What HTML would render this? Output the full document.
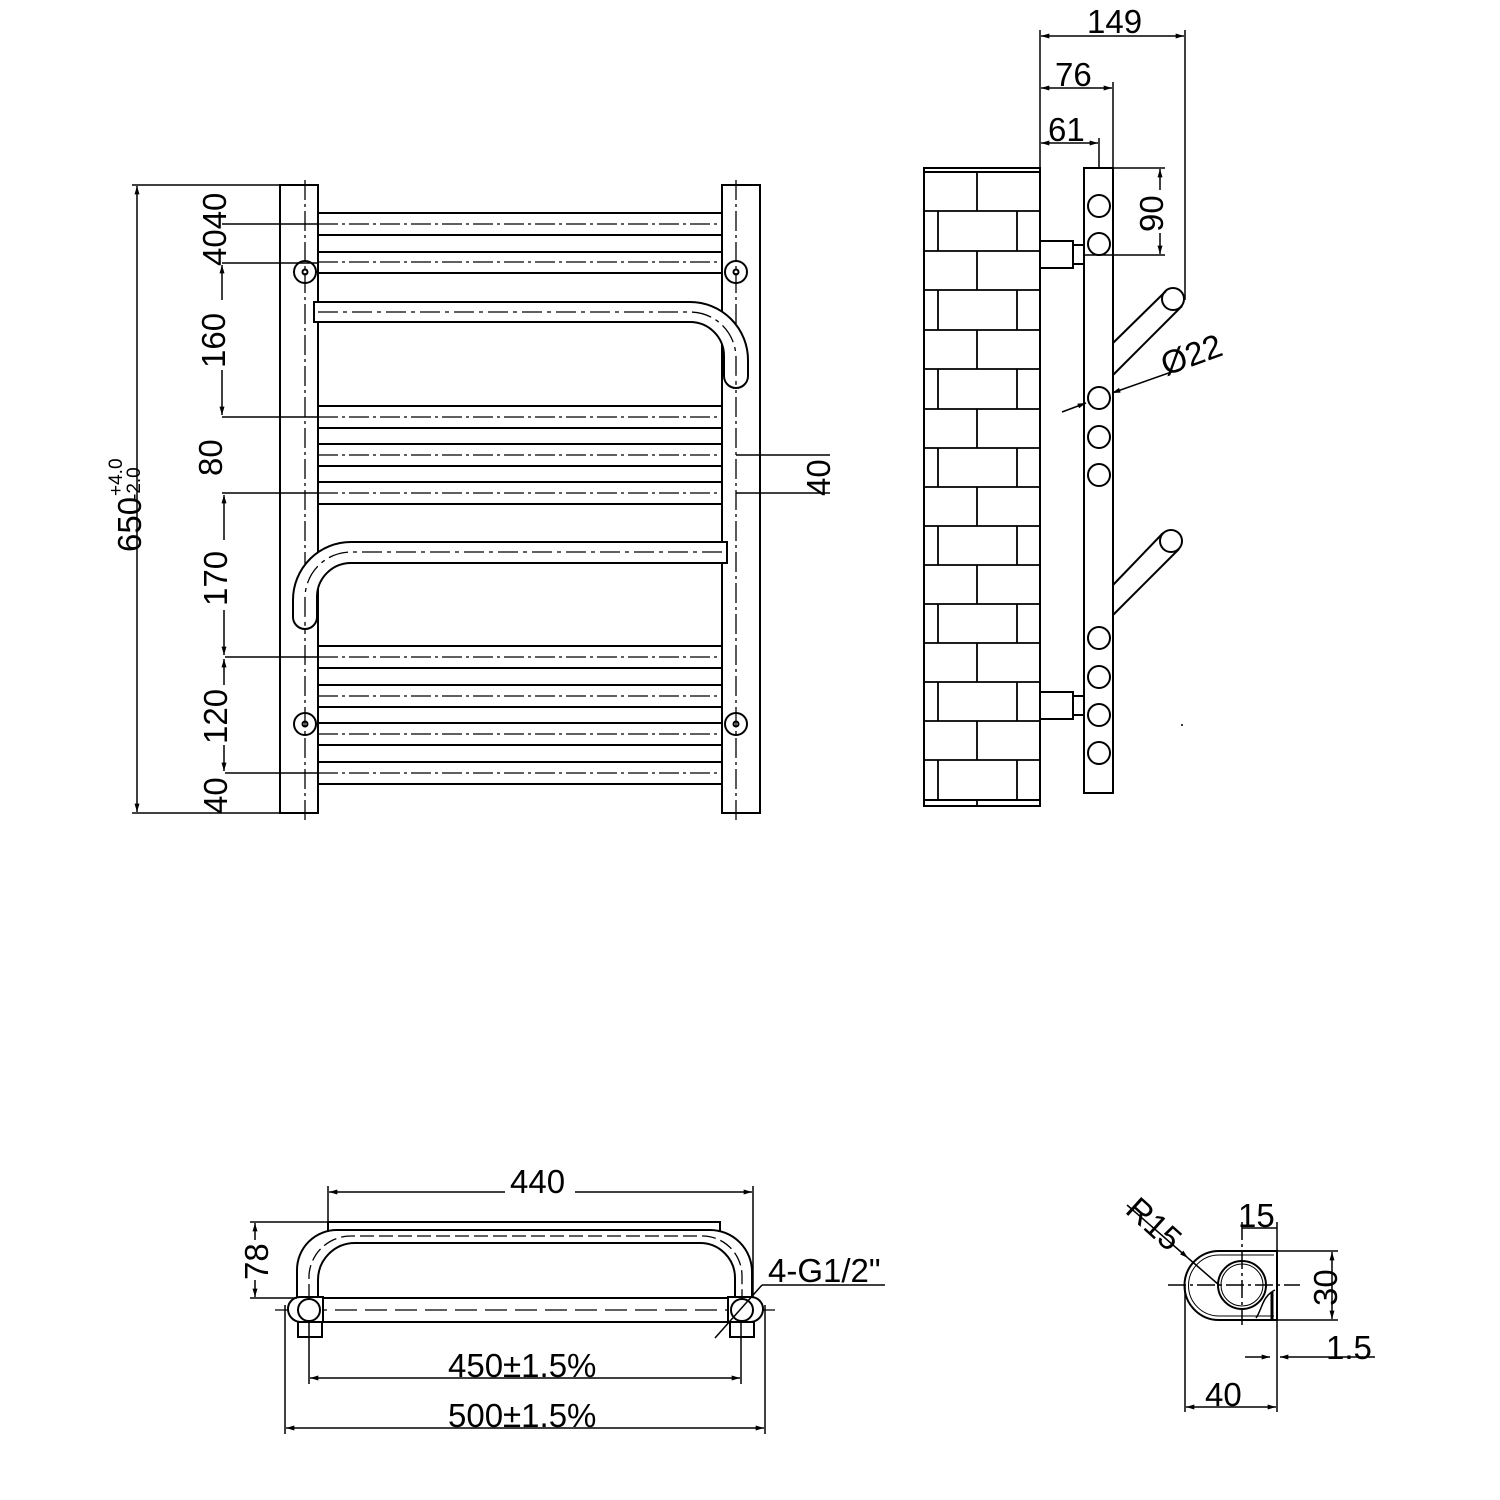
<!DOCTYPE html>
<html><head><meta charset="utf-8"><style>
html,body{margin:0;padding:0;background:#fff}
svg{display:block}
text{font-family:"Liberation Sans",sans-serif;fill:#000}
</style></head><body>
<svg width="1500" height="1500" viewBox="0 0 1500 1500" xmlns="http://www.w3.org/2000/svg">
<defs>
<marker id="a" viewBox="0 0 10 6" refX="10" refY="3" markerWidth="14" markerHeight="5" orient="auto-start-reverse" markerUnits="userSpaceOnUse"><path d="M0,0L10,3L0,6z" fill="#000"/></marker>
</defs>
<g stroke="#000" stroke-width="2" fill="none">
<rect x="280" y="185" width="38" height="628"/>
<rect x="722" y="185" width="38" height="628"/>
<g stroke-dasharray="20,4,3,4" stroke-width="1.3">
<line x1="305" y1="180" x2="305" y2="820"/>
<line x1="736" y1="180" x2="736" y2="820"/>
</g>
<g>
<line x1="318" y1="213" x2="722" y2="213"/><line x1="318" y1="235" x2="722" y2="235"/>
<line x1="318" y1="252" x2="722" y2="252"/><line x1="318" y1="273" x2="722" y2="273"/>
<line x1="318" y1="406" x2="722" y2="406"/><line x1="318" y1="428" x2="722" y2="428"/>
<line x1="318" y1="444" x2="722" y2="444"/><line x1="318" y1="466" x2="722" y2="466"/>
<line x1="318" y1="482" x2="722" y2="482"/><line x1="318" y1="504" x2="722" y2="504"/>
<line x1="318" y1="646" x2="722" y2="646"/><line x1="318" y1="668" x2="722" y2="668"/>
<line x1="318" y1="685" x2="722" y2="685"/><line x1="318" y1="707" x2="722" y2="707"/>
<line x1="318" y1="723" x2="722" y2="723"/><line x1="318" y1="745" x2="722" y2="745"/>
<line x1="318" y1="762" x2="722" y2="762"/><line x1="318" y1="784" x2="722" y2="784"/>
</g>
<g stroke-dasharray="20,4,3,4" stroke-width="1.3">
<line x1="318" y1="224" x2="722" y2="224"/><line x1="318" y1="262" x2="722" y2="262"/>
<line x1="318" y1="417" x2="722" y2="417"/><line x1="318" y1="455" x2="722" y2="455"/>
<line x1="318" y1="493" x2="722" y2="493"/><line x1="318" y1="657" x2="722" y2="657"/>
<line x1="318" y1="696" x2="722" y2="696"/><line x1="318" y1="734" x2="722" y2="734"/>
<line x1="318" y1="773" x2="722" y2="773"/>
</g>
<circle cx="305" cy="272" r="11"/><circle cx="305" cy="272" r="2.5"/>
<circle cx="736" cy="272" r="11"/><circle cx="736" cy="272" r="2.5"/>
<circle cx="305" cy="724" r="11"/><circle cx="305" cy="724" r="2.5"/>
<circle cx="736" cy="724" r="11"/><circle cx="736" cy="724" r="2.5"/>
<path d="M314,302 L690,302 A58,58 0 0 1 748,360 L748,376 A12,12 0 0 1 724,376 L724,356 A34,34 0 0 0 690,322 L314,322 Z" fill="#fff"/>
<path d="M318,312 L690,312 A46,46 0 0 1 736,358 L736,388" stroke-dasharray="20,5,4,5" stroke-width="1.3"/>
<path d="M727,542 L351,542 A58,58 0 0 0 293,600 L293,617 A12,12 0 0 0 317,617 L317,597 A34,34 0 0 1 351,563 L727,563 Z" fill="#fff"/>
<path d="M722,552 L351,552 A46,46 0 0 0 305,598 L305,628" stroke-dasharray="20,5,4,5" stroke-width="1.3"/>
</g>
<g stroke="#000" stroke-width="1.5" fill="none">
<line x1="132" y1="185" x2="318" y2="185"/>
<line x1="132" y1="813" x2="318" y2="813"/>
<line x1="137" y1="186" x2="137" y2="812" marker-start="url(#a)" marker-end="url(#a)"/>
<line x1="222" y1="224" x2="318" y2="224"/>
<line x1="222" y1="263" x2="318" y2="263"/>
<line x1="222" y1="417" x2="318" y2="417"/>
<line x1="222" y1="493" x2="318" y2="493"/>
<line x1="225" y1="657" x2="318" y2="657"/>
<line x1="225" y1="773" x2="318" y2="773"/>
<line x1="222" y1="265" x2="222" y2="300" marker-start="url(#a)"/>
<line x1="222" y1="370" x2="222" y2="415" marker-end="url(#a)"/>
<line x1="224" y1="495" x2="224" y2="540" marker-start="url(#a)"/>
<line x1="224" y1="610" x2="224" y2="655" marker-end="url(#a)"/>
<line x1="224" y1="659" x2="224" y2="685" marker-start="url(#a)"/>
<line x1="224" y1="745" x2="224" y2="771" marker-end="url(#a)"/>
<line x1="736" y1="455" x2="830" y2="455"/>
<line x1="736" y1="493" x2="830" y2="493"/>
</g>
<g font-size="33">
<text transform="translate(226,266) rotate(-90)">4040</text>
<text transform="translate(225,368) rotate(-90)">160</text>
<text transform="translate(222,476) rotate(-90)">80</text>
<text transform="translate(227,606) rotate(-90)">170</text>
<text transform="translate(227,744) rotate(-90)">120</text>
<text transform="translate(227,814) rotate(-90)">40</text>
<text transform="translate(830,496) rotate(-90)">40</text>
<text transform="translate(141,552) rotate(-90)">650</text>
<text font-size="19" transform="translate(122,496) rotate(-90)">+4.0</text>
<text font-size="19" transform="translate(140,500) rotate(-90)">-2.0</text>
</g>
<g stroke="#000" stroke-width="2" fill="none">
<rect x="924" y="168" width="116" height="638"/>
<line x1="924" y1="172" x2="1040" y2="172"/>
<line x1="924" y1="800" x2="1040" y2="800"/>
</g>
<g stroke="#000" stroke-width="1.8">
<line x1="924" y1="211" x2="1040" y2="211"/><line x1="924" y1="251" x2="1040" y2="251"/>
<line x1="924" y1="290" x2="1040" y2="290"/><line x1="924" y1="330" x2="1040" y2="330"/>
<line x1="924" y1="369" x2="1040" y2="369"/><line x1="924" y1="409" x2="1040" y2="409"/>
<line x1="924" y1="448" x2="1040" y2="448"/><line x1="924" y1="487" x2="1040" y2="487"/>
<line x1="924" y1="526" x2="1040" y2="526"/><line x1="924" y1="565" x2="1040" y2="565"/>
<line x1="924" y1="604" x2="1040" y2="604"/><line x1="924" y1="643" x2="1040" y2="643"/>
<line x1="924" y1="682" x2="1040" y2="682"/><line x1="924" y1="721" x2="1040" y2="721"/>
<line x1="924" y1="760" x2="1040" y2="760"/>
<line x1="977" y1="172" x2="977" y2="211"/>
<line x1="938" y1="211" x2="938" y2="251"/><line x1="1017" y1="211" x2="1017" y2="251"/>
<line x1="977" y1="251" x2="977" y2="290"/>
<line x1="938" y1="290" x2="938" y2="330"/><line x1="1017" y1="290" x2="1017" y2="330"/>
<line x1="977" y1="330" x2="977" y2="369"/>
<line x1="938" y1="369" x2="938" y2="409"/><line x1="1017" y1="369" x2="1017" y2="409"/>
<line x1="977" y1="409" x2="977" y2="448"/>
<line x1="938" y1="448" x2="938" y2="487"/><line x1="1017" y1="448" x2="1017" y2="487"/>
<line x1="977" y1="487" x2="977" y2="526"/>
<line x1="938" y1="526" x2="938" y2="565"/><line x1="1017" y1="526" x2="1017" y2="565"/>
<line x1="977" y1="565" x2="977" y2="604"/>
<line x1="938" y1="604" x2="938" y2="643"/><line x1="1017" y1="604" x2="1017" y2="643"/>
<line x1="977" y1="643" x2="977" y2="682"/>
<line x1="938" y1="682" x2="938" y2="721"/><line x1="1017" y1="682" x2="1017" y2="721"/>
<line x1="977" y1="721" x2="977" y2="760"/>
<line x1="938" y1="760" x2="938" y2="800"/><line x1="1017" y1="760" x2="1017" y2="800"/>
<line x1="977" y1="800" x2="977" y2="806"/>
</g>
<g stroke="#000" stroke-width="2" fill="none">
<rect x="1084" y="168" width="29" height="625"/>
<circle cx="1099" cy="206" r="11"/><circle cx="1099" cy="244" r="11"/>
<circle cx="1099" cy="398" r="11"/><circle cx="1099" cy="437" r="11"/><circle cx="1099" cy="475" r="11"/>
<circle cx="1099" cy="638" r="11"/><circle cx="1099" cy="677" r="11"/><circle cx="1099" cy="715" r="11"/><circle cx="1099" cy="753" r="11"/>
<rect x="1040" y="241" width="33" height="27"/><rect x="1073" y="245" width="11" height="19"/>
<rect x="1040" y="692" width="33" height="27"/><rect x="1073" y="696" width="11" height="19"/>
<line x1="1113" y1="343" x2="1166" y2="291"/><line x1="1113" y1="375" x2="1182" y2="306"/>
<circle cx="1173" cy="299" r="11"/>
<line x1="1113" y1="585" x2="1163" y2="533"/><line x1="1113" y1="615" x2="1179" y2="549"/>
<circle cx="1171" cy="541" r="11"/>
</g>
<g stroke="#000" stroke-width="1.5" fill="none">
<line x1="1040" y1="30" x2="1040" y2="241"/>
<line x1="1185" y1="30" x2="1185" y2="300"/>
<line x1="1113" y1="82" x2="1113" y2="168"/>
<line x1="1099" y1="138" x2="1099" y2="168"/>
<line x1="1041" y1="36" x2="1184" y2="36" marker-start="url(#a)" marker-end="url(#a)"/>
<line x1="1041" y1="88" x2="1112" y2="88" marker-start="url(#a)" marker-end="url(#a)"/>
<line x1="1041" y1="143" x2="1098" y2="143" marker-start="url(#a)" marker-end="url(#a)"/>
<line x1="1113" y1="168" x2="1165" y2="168"/>
<line x1="1085" y1="255" x2="1165" y2="255"/>
<line x1="1160" y1="169" x2="1160" y2="190" marker-start="url(#a)"/>
<line x1="1160" y1="233" x2="1160" y2="254" marker-end="url(#a)"/>
<line x1="1062" y1="412" x2="1086" y2="403" marker-end="url(#a)"/>
<line x1="1112" y1="393" x2="1180" y2="369" marker-start="url(#a)"/>
</g>
<g font-size="33">
<text x="1087" y="33">149</text>
<text x="1055" y="86">76</text>
<text x="1048" y="141">61</text>
<text transform="translate(1163,232) rotate(-90)">90</text>
<text transform="translate(1166,376) rotate(-20)">Ø22</text>
</g>
<g stroke="#000" stroke-width="2" fill="none">
<path d="M328,1222 L720,1222 L720,1232"/>
<path d="M328,1222 L328,1232"/>
<path d="M297,1298 L297,1270 A40,40 0 0 1 337,1230 L710,1230 A42,42 0 0 1 752,1272 L752,1298"/>
<path d="M318,1298 L318,1280 A37,37 0 0 1 355,1243 L700,1243 A35,35 0 0 1 735,1278 L735,1298"/>
<path d="M309,1298 L309,1275 A42,42 0 0 1 351,1236 L704,1236 A40,40 0 0 1 742,1276 L742,1298" stroke-dasharray="14,5" stroke-width="1.3"/>
<line x1="320" y1="1298" x2="730" y2="1298"/>
<line x1="320" y1="1322" x2="730" y2="1322"/>
<line x1="275" y1="1310" x2="775" y2="1310" stroke-dasharray="22,8" stroke-width="1.3"/>
<path d="M323,1297 L300,1297 A12,12 0 0 0 288,1309 A13,13 0 0 0 300,1322 L323,1322 Z" fill="#fff"/>
<circle cx="309" cy="1310" r="11"/>
<rect x="298" y="1322" width="24" height="15"/>
<path d="M728,1297 L751,1297 A12,12 0 0 1 763,1309 A13,13 0 0 1 751,1322 L728,1322 Z" fill="#fff"/>
<circle cx="742" cy="1310" r="11"/>
<rect x="730" y="1322" width="24" height="15"/>
</g>
<g stroke="#000" stroke-width="1.5" fill="none">
<line x1="328" y1="1186" x2="328" y2="1222"/>
<line x1="753" y1="1186" x2="753" y2="1298"/>
<line x1="329" y1="1192" x2="505" y2="1192" marker-start="url(#a)"/>
<line x1="575" y1="1192" x2="752" y2="1192" marker-end="url(#a)"/>
<line x1="250" y1="1222" x2="328" y2="1222"/>
<line x1="250" y1="1298" x2="297" y2="1298"/>
<line x1="255" y1="1223" x2="255" y2="1240" marker-start="url(#a)"/>
<line x1="255" y1="1280" x2="255" y2="1297" marker-end="url(#a)"/>
<line x1="285" y1="1305" x2="285" y2="1434"/>
<line x1="765" y1="1305" x2="765" y2="1434"/>
<line x1="309" y1="1322" x2="309" y2="1384"/>
<line x1="741" y1="1322" x2="741" y2="1384"/>
<line x1="310" y1="1378" x2="740" y2="1378" marker-start="url(#a)" marker-end="url(#a)"/>
<line x1="286" y1="1428" x2="764" y2="1428" marker-start="url(#a)" marker-end="url(#a)"/>
<line x1="715" y1="1338" x2="762" y2="1285"/>
<line x1="762" y1="1285" x2="885" y2="1285"/>
</g>
<g font-size="33">
<text x="510" y="1193">440</text>
<text transform="translate(268,1280) rotate(-90)">78</text>
<text x="768" y="1282">4-G1/2"</text>
<text x="448" y="1377">450±1.5%</text>
<text x="448" y="1427">500±1.5%</text>
</g>
<g stroke="#000" stroke-width="2" fill="none">
<path d="M1277,1251 L1219,1251 A34,34 0 0 0 1219,1320 L1277,1320 Z"/>
<path d="M1274,1255 L1219,1255 A30,30 0 0 0 1219,1316 L1274,1316" stroke-width="1"/>
<circle cx="1242" cy="1285" r="24"/>
<circle cx="1242" cy="1285" r="21" stroke-width="1"/>
<path d="M1275,1290 C1262,1296 1262,1310 1256,1318" stroke-width="1.5"/>
<line x1="1272" y1="1292" x2="1272" y2="1320" stroke-width="3"/>
</g>
<g stroke="#000" stroke-width="1.5" fill="none">
<line x1="1168" y1="1285" x2="1300" y2="1285" stroke-dasharray="18,4,3,4"/>
<line x1="1242" y1="1222" x2="1242" y2="1325" stroke-dasharray="18,4,3,4"/>
<line x1="1277" y1="1222" x2="1277" y2="1412"/>
<line x1="1185" y1="1285" x2="1185" y2="1412"/>
<line x1="1242" y1="1228" x2="1277" y2="1228"/>
<line x1="1277" y1="1251" x2="1338" y2="1251"/>
<line x1="1277" y1="1320" x2="1338" y2="1320"/>
<line x1="1332" y1="1252" x2="1332" y2="1319" marker-start="url(#a)" marker-end="url(#a)"/>
<line x1="1245" y1="1357" x2="1270" y2="1357" marker-end="url(#a)"/>
<line x1="1375" y1="1357" x2="1280" y2="1357" marker-end="url(#a)"/>
<line x1="1186" y1="1407" x2="1276" y2="1407" marker-start="url(#a)" marker-end="url(#a)"/>
<line x1="1127" y1="1205" x2="1188" y2="1258" marker-end="url(#a)"/>
<line x1="1188" y1="1258" x2="1219" y2="1285"/>
</g>
<g font-size="33">
<text x="1238" y="1227">15</text>
<text transform="translate(1337,1306) rotate(-90)">30</text>
<text x="1326" y="1359">1.5</text>
<text x="1205" y="1406">40</text>
<text transform="translate(1124,1212) rotate(42)">R15</text>
</g>
<circle cx="1182" cy="725" r="1" fill="#000"/>
</svg>
</body></html>
